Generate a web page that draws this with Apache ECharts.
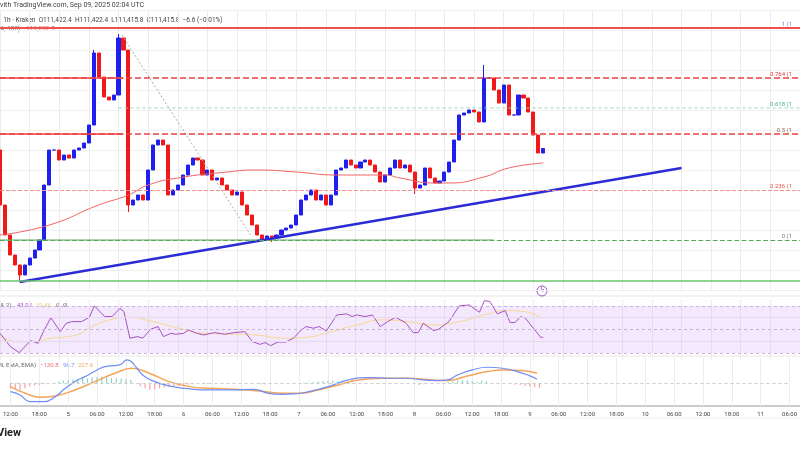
<!DOCTYPE html>
<html><head><meta charset="utf-8">
<script src="https://cdn.jsdelivr.net/npm/echarts@6/dist/echarts.min.js"></script>
<style>html,body{margin:0;padding:0;background:#fff}#c{width:800px;height:450px}</style>
</head><body><div id="c"></div>
<script>
// ---- data ----
const tickLabels = ["12:00","18:00","5","06:00","12:00","18:00","6","06:00","12:00","18:00","7","06:00","12:00","18:00","8","06:00","12:00","18:00","9","06:00","12:00","18:00","10","06:00","12:00","18:00","11","06:00"];
const firstOpen = 111400;
const closes = [
110850,110550,110350,110250,110150,110250,110320,110400,110500,111050,
111400,111400,111300,111350,111320,111400,111420,111470,111650,112370,
112130,111930,111900,111950,112520,112400,110850,110900,110950,110900,
111200,111450,111500,111450,110950,111000,111050,111150,111250,111320,
111300,111150,111200,111100,111120,111050,111000,110950,110980,110850,
110750,110650,110550,110500,110540,110520,110550,110600,110620,110650,
110750,110900,110950,111000,110900,110950,110850,110950,111200,111220,
111300,111250,111220,111280,111300,111250,111180,111080,111150,111220,
111300,111220,111250,111180,111020,111050,111220,111120,111070,111090,
111180,111280,111500,111750,111770,111800,111780,111680,112120,112120,
112000,111870,112050,111750,111750,111950,111920,111780,111550,111370,
111415];
const wickLows = {4:110080, 26:110780, 55:110480, 84:110960};
const wickHighs = {24:112560, 98:112250, 19:112400};
const ma100 = [[0,110550],[10,110650],[20,110850],[26,110950],[30,111050],[36,111120],[46,111180],[52,111200],[60,111180],[68,111150],[78,111150],[81,111120],[88,111070],[91,111070],[98,111130],[103,111220],[110,111270]];
const trend = [[4,110080],[138,111220]];
const diag = [[24.7,112550],[51,110530]];
const fib = {"1":112620,"0.764":112120,"0.618":111820,"0.5":111560,"0.236":111000,"0":110500};
const lowLine = 110090;
const rsi = [[0,46.7],[2.1,35.4],[3.9,30.3],[6.2,40.5],[7.7,38.2],[8.8,48.1],[10.3,60],[12.2,48.1],[13.4,55.2],[14.5,56.6],[16.5,56.6],[18.1,60.3],[19.1,70],[21.2,60.9],[22.7,60.9],[24.3,68],[25.1,65.1],[26.3,42.5],[27.9,43.9],[28.9,42.5],[30.5,50.1],[32,52.4],[33.1,43.9],[34.6,46.7],[35.6,45.9],[37.2,46.7],[38.2,49.5],[39.8,46.7],[41.3,45.3],[43.4,47.3],[45.5,45.9],[47.5,47.3],[49.6,48.1],[51.1,39.6],[52.7,37.3],[53.7,38.8],[54.8,36.2],[56.3,39.3],[57.9,39.3],[59.4,42.5],[61,49.5],[62,52.4],[63.5,51],[64.6,52.4],[66.1,48.7],[68.2,62.3],[70.2,63.2],[71.3,60.9],[72.3,62.3],[73.9,60.9],[75.4,62.3],[77,52.4],[78.5,56.6],[80.1,60.3],[82.1,55.8],[83.7,47.3],[84.7,47.3],[85.7,55.2],[87.8,49],[88.8,50.1],[90.9,56.6],[93,70],[95,70.8],[97.1,64.6],[98.1,74.5],[99.2,73.7],[100.7,63.2],[102.3,66],[103.3,55.8],[104.3,55.8],[105.4,60.9],[106.4,59.5],[108,51],[109.5,43.3],[110,43.3]];
const rsiMa = [[0,45.3],[3.1,39.6],[6.2,39.6],[10.3,42.5],[15.5,45.3],[18.6,52.4],[22.7,58.6],[25.8,60.3],[31,56.6],[36.2,51],[41.3,46.7],[46.5,46.1],[51.7,45.3],[57.9,42.5],[62,43.3],[67.1,48.1],[72.3,53.8],[77.5,58.1],[82.6,56.6],[87.8,53.8],[93,56.6],[98.1,62.3],[102.3,66],[106.4,65.1],[109.5,59.5]];
const macd = [[0,-75],[2,-105],[4,-165],[7,-165],[9.3,-120],[11.4,-45],[13.4,15],[15.5,60],[18,120],[19.6,150],[20.7,156],[22.7,165],[24.3,210],[25.1,195],[26.3,135],[27.9,60],[30,15],[33,-24],[36.2,-45],[41.3,-60],[46.5,-60],[50.6,-54],[53.7,-90],[56.3,-99],[58.9,-96],[62,-75],[66.1,-30],[70.2,30],[74.4,51],[78.5,45],[82.6,45],[85.7,30],[88.8,24],[90.9,30],[93,75],[96,120],[99.2,144],[102.3,135],[105.4,105],[108,66],[109.5,36]];
const signal = [[0,-30],[3.1,-90],[6.2,-126],[9.3,-114],[13.4,-60],[17.6,15],[21.7,90],[25.3,135],[28.9,90],[33,15],[37.2,-30],[41.3,-45],[46.5,-54],[51.7,-69],[56.8,-90],[59.9,-90],[64,-60],[68.2,-15],[72.3,30],[77.5,45],[82.6,45],[87.8,30],[90.9,24],[95,66],[99.2,105],[102.3,120],[106.4,114],[109.5,90]];
const hist = [[0,-45],[1,-54],[2,-60],[3,-45],[4,-30],[5,-21],[6,-15],[7,-9],[10,15],[11,24],[12,30],[13,36],[14,36],[15,42],[16,45],[17,51],[18,57],[19,60],[20,54],[21,48],[22,45],[23,42],[24,36],[25,30],[27,-27],[28,-45],[29,-57],[30,-54],[31,-45],[32,-39],[33,-36],[34,-30],[35,-24],[36,-18],[37,-12],[38,-9],[40,-6],[41,-6],[52,-9],[53,-12],[54,-9],[61,6],[62,9],[63,12],[64,15],[65,18],[66,21],[67,24],[68,18],[69,12],[70,9],[71,6],[84,-9],[85,-15],[86,-12],[91,12],[92,18],[93,24],[94,30],[95,27],[96,21],[97,15],[98,24],[99,18],[104,-9],[105,-12],[106,-15],[107,-24],[108,-30],[109,-36],[110,-39]];

// ---- build ----
const cats = []; for (let i = 0; i <= 162; i++) cats.push(String(i));
const ohlc = closes.map((c, i) => {
  const o = i === 0 ? firstOpen : closes[i - 1];
  const lo = wickLows[i] !== undefined ? wickLows[i] : Math.min(o, c);
  const hi = wickHighs[i] !== undefined ? wickHighs[i] : Math.max(o, c);
  return [o, c, lo, hi];
});
const F = 'Roboto, "DejaVu Sans", sans-serif';
const vGrid = {show:true, interval:5, lineStyle:{color:'#ececec', width:1}};
function cx(gi, showLabels){ return {type:'category', gridIndex:gi, data:cats, boundaryGap:false, axisLine:{show:false}, axisTick:{show:false},
  axisLabel:{show:showLabels, interval:5, color:'#444', fontSize:6, fontFamily:F, margin:5, formatter:(v,idx)=>tickLabels[idx/6]||''}, splitLine:vGrid}; }
function vx(gi){ return {type:'value', gridIndex:gi, min:0, max:162, show:false, splitLine:{show:false}, position:'top'}; }
function fibLine(name, val, color, type, width, labelColor){
  return {yAxis:val, lineStyle:{color:color, type:type, width:width}, label:{show:true, position:'insideEndTop', formatter:name+' (1', color:labelColor, fontSize:6, fontFamily:F, distance:[8,1]}};
}
const chart = echarts.init(document.getElementById('c'), null, {renderer:'canvas'});
chart.setOption({
  animation:false,
  grid:[{left:0,right:0,top:10,height:280},{left:0,right:0,top:300,height:60},{left:0,right:0,top:358,height:48}],
  xAxis:[ cx(0,false), vx(0), cx(1,false), vx(1), cx(2,true), vx(2) ],
  yAxis:[
    {type:'value', gridIndex:0, min:110000, max:112800, interval:200, axisLabel:{show:false}, axisLine:{show:false}, axisTick:{show:false}, splitLine:{lineStyle:{color:'#f0f0f0'}}},
    {type:'value', gridIndex:1, min:24, max:75, axisLabel:{show:false}, splitLine:{show:false}, axisLine:{show:false}, axisTick:{show:false}},
    {type:'value', gridIndex:2, min:-204, max:227, axisLabel:{show:false}, splitLine:{show:false}, axisLine:{show:false}, axisTick:{show:false}}
  ],
  series:[
    {type:'line', xAxisIndex:1, yAxisIndex:0, data:[], silent:true,
     markLine:{symbol:'none', silent:true, data:[
       fibLine('1', fib['1'], '#f05050', 'solid', 2, '#5b8ddb'),
       fibLine('0.764', fib['0.764'], '#f04040', 'dashed', 1.5, '#e04040'),
       fibLine('0.618', fib['0.618'], 'rgba(0,0,0,0)', 'solid', 1, '#3fb08a'),
       fibLine('0.5', fib['0.5'], '#f04040', 'dashed', 1.5, '#8a6a5a'),
       fibLine('0.236', fib['0.236'], '#f39090', 'dashed', 1, '#e05050'),
       fibLine('0', fib['0'], '#5aa85a', 'dashed', 1.2, '#777'),
       {yAxis:lowLine, lineStyle:{color:'#6cc46c', type:'solid', width:1.5}, label:{show:false}}
     ]}},
    {type:'line', xAxisIndex:1, yAxisIndex:0, data:[[0,fib['0.764']],[25,fib['0.764']]], symbol:'none', lineStyle:{color:'#f04040',width:1.5}},
    {type:'line', xAxisIndex:1, yAxisIndex:0, data:[[0,fib['0.5']],[25,fib['0.5']]], symbol:'none', lineStyle:{color:'#f04040',width:1.5}},
    {type:'line', xAxisIndex:1, yAxisIndex:0, data:[[0,fib['0']],[100,fib['0']]], symbol:'none', lineStyle:{color:'#5aa85a',width:1}},
    {type:'line', xAxisIndex:1, yAxisIndex:0, data:[[24,fib['0.618']],[162,fib['0.618']]], symbol:'none', lineStyle:{color:'#8fd8bd',width:1,type:[3,3]}},
    {type:'line', xAxisIndex:1, yAxisIndex:0, data:diag, symbol:'none', lineStyle:{color:'#aaa',width:1,type:[2,2]}},
    {type:'line', xAxisIndex:1, yAxisIndex:0, data:ma100, symbol:'none', smooth:true, lineStyle:{color:'#f06262',width:1}},
    {type:'candlestick', xAxisIndex:0, yAxisIndex:0, data:ohlc, barWidth:3.6,
     itemStyle:{color:'#1f1ff0', color0:'#f01818', borderColor:'#1f1ff0', borderColor0:'#f01818', borderWidth:1}},
    {type:'line', xAxisIndex:1, yAxisIndex:0, data:trend, symbol:'none', lineStyle:{color:'#2b2bd6',width:2.5}},
    // RSI
    {type:'line', xAxisIndex:3, yAxisIndex:1, data:[], markArea:{silent:true, itemStyle:{color:'rgba(200,150,240,0.22)'}, data:[[{yAxis:30},{yAxis:70}]]},
     markLine:{symbol:'none', silent:true, label:{show:false}, data:[
       {yAxis:70, lineStyle:{color:'#c9b3de',type:[3,3],width:1}},
       {yAxis:50, lineStyle:{color:'#c9b3de',type:[3,3],width:1}},
       {yAxis:30, lineStyle:{color:'#c9b3de',type:[3,3],width:1}},
       {yAxis:60, lineStyle:{color:'#e4d9ee',type:'solid',width:1}},
       {yAxis:40, lineStyle:{color:'#e4d9ee',type:'solid',width:1}}]}},
    {type:'line', xAxisIndex:3, yAxisIndex:1, data:rsiMa, symbol:'none', smooth:true, lineStyle:{color:'#f6d891',width:1}},
    {type:'line', xAxisIndex:3, yAxisIndex:1, data:rsi, symbol:'none', lineStyle:{color:'#a552c4',width:1}},
    // MACD
    {type:'bar', xAxisIndex:4, yAxisIndex:2, data:hist.map(d=>({value:d, itemStyle:{color:d[1]>=0?'#8fd6c4':'#f5a3a3'}})), barWidth:1.2,
     markLine:{symbol:'none', silent:true, label:{show:false}, data:[{yAxis:0, lineStyle:{color:'#ccc',type:[3,3],width:1}}]}},
    {type:'line', xAxisIndex:5, yAxisIndex:2, data:signal, symbol:'none', smooth:true, lineStyle:{color:'#f5a55a',width:1.5}},
    {type:'line', xAxisIndex:5, yAxisIndex:2, data:macd, symbol:'none', smooth:true, lineStyle:{color:'#6f8ff5',width:1.2}}
  ],
  graphic:[
    {type:'line', shape:{x1:0,y1:296,x2:800,y2:296}, style:{stroke:'#e6e6e6',lineWidth:1}},
    {type:'line', shape:{x1:0,y1:356,x2:800,y2:356}, style:{stroke:'#e6e6e6',lineWidth:1}},
    {type:'line', shape:{x1:0,y1:406,x2:800,y2:406}, style:{stroke:'#bbb',lineWidth:1.5}},
    {type:'line', shape:{x1:0,y1:418,x2:800,y2:418}, style:{stroke:'#eee',lineWidth:1}},
    {type:'text', left:0, top:2, style:{text:'vith TradingView.com, Sep 09, 2025 02:04 UTC', fill:'#444', font:'7px '+F}},
    {type:'text', left:0, top:17, style:{text:'· 1h · Kraken  O111,422.4  H111,422.4  L111,415.8  C111,415.8  −6.6 (−0.01%)', fill:'#444', font:'6.5px '+F}},
    {type:'text', left:0, top:26, style:{text:'A, 100)', fill:'#777', font:'6.5px '+F}},
    {type:'text', left:26, top:26, style:{text:'111,232.5', fill:'#f06262', font:'6.5px '+F}},
    {type:'text', left:0, top:302, style:{text:'4, 2)', fill:'#666', font:'6px '+F}},
    {type:'text', left:17, top:302, style:{text:'43.02', fill:'#a552c4', font:'6px '+F}},
    {type:'text', left:36, top:302, style:{text:'39.46', fill:'#f0cc80', font:'6px '+F}},
    {type:'text', left:56, top:302, style:{text:'Ø  Ø', fill:'#777', font:'6px '+F}},
    {type:'text', left:0, top:362, style:{text:'9, EMA, EMA)', fill:'#666', font:'6px '+F}},
    {type:'text', left:40, top:362, style:{text:'−130.8', fill:'#f07070', font:'6px '+F}},
    {type:'text', left:63, top:362, style:{text:'96.7', fill:'#6f8ff5', font:'6px '+F}},
    {type:'text', left:78, top:362, style:{text:'227.6', fill:'#f5a55a', font:'6px '+F}},
    {type:'circle', shape:{cx:542,cy:291,r:5}, style:{fill:'none',stroke:'#9b4fc4',lineWidth:1}},
    {type:'text', left:540, top:287, style:{text:'ϟ', fill:'#9b4fc4', font:'7px '+F}},
    {type:'text', left:-3, top:428, style:{text:'View', fill:'#222', font:'bold 11px '+F}}
  ]
});
</script></body></html>
